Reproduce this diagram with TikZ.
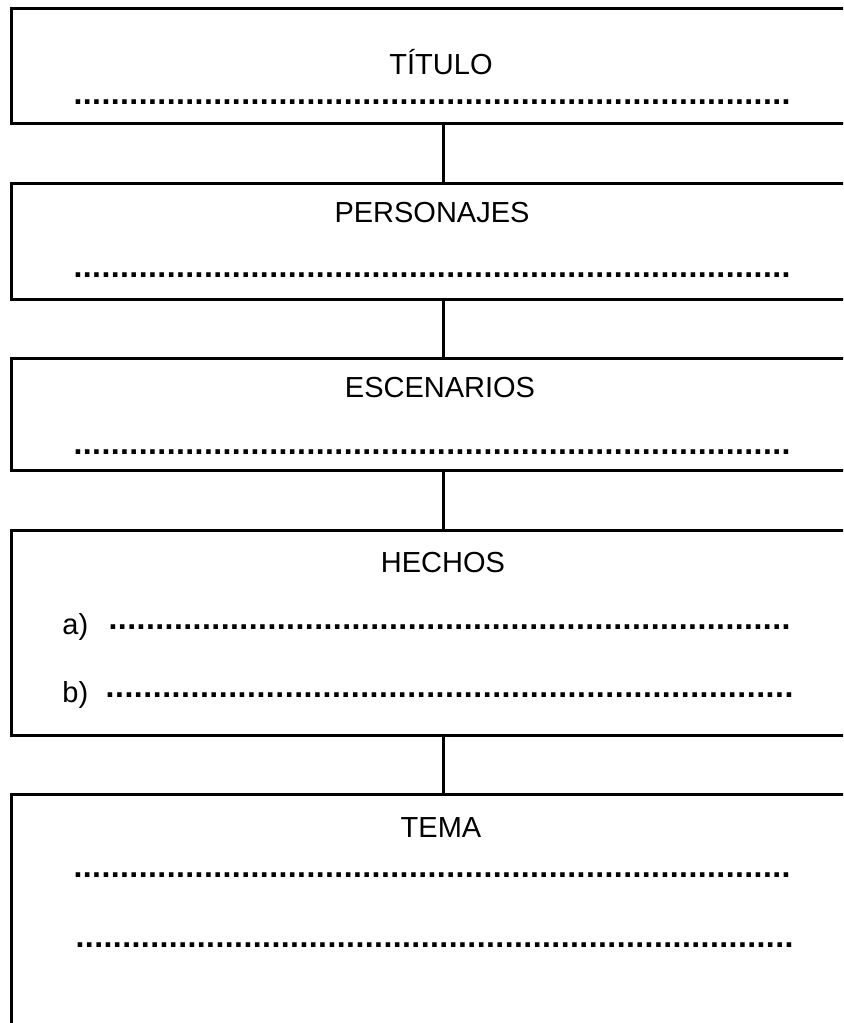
\documentclass[tikz,border=0pt]{standalone}
\usepackage{fontspec}
\setmainfont{Liberation Sans}
\usepackage{tikz}

% row of bold dots of a given width
\newcommand{\puntos}[1]{\hbox to #1{\fontsize{16}{18}\selectfont\bfseries\xleaders\hbox to 4.65pt{\hss.\hss}\hfill}}

\begin{document}
\begin{tikzpicture}[x=0.5pt, y=-0.5pt, every node/.style={inner sep=0pt, font=\fontsize{14.5}{17}\selectfont}, every edge/.style={draw=black, line width=1.5pt}]
			\useasboundingbox (0,0) rectangle (843,1023);
			\clip (0,0) rectangle (843,1023);
			\tikzset{caja/.style={rectangle, draw=black, line width=1.5pt, minimum width=424.5pt}}
			
			\node[caja, minimum height=57.5pt] (titulo) at (435.5,65.5){};
			\node[caja, minimum height=58pt] (personajes) at (435.5,241){};
			\node[caja, minimum height=56pt] (escenarios) at (435.5,414){};
			\node[caja, minimum height=102.5pt] (hechos) at (435.5,632.5){};
			\node[caja, minimum height=125pt] (tema) at (435.5,919){};
			
			\node[anchor=base] (t1) at (441,74){TÍTULO};
			\node[anchor=base west] (t2) at (73,104){\puntos{358.5pt}};
			
			\node[anchor=base] (p1) at (432,222){PERSONAJES};
			\node[anchor=base west] (p2) at (73,277){\puntos{358.5pt}};
			
			\node[anchor=base] (e1) at (440,397){ESCENARIOS};
			\node[anchor=base west] (e2) at (73,454){\puntos{358.5pt}};
			
			\node[anchor=base] (h1) at (443,572){HECHOS};
			\node[anchor=base west] (ha) at (62,634){a)};
			\node[anchor=base west] (ha2) at (108,629){\puntos{341pt}};
			\node[anchor=base west] (hb) at (62,702){b)};
			\node[anchor=base west] (hb2) at (105,697){\puntos{344pt}};
			
			\node[anchor=base] (m1) at (441,837){TEMA};
			\node[anchor=base west] (m2) at (73,877){\puntos{358.5pt}};
			\node[anchor=base west] (m3) at (75,947){\puntos{359pt}};
			
			\path (titulo.south -| 443,0) edge (personajes.north -| 443,0);
			\path (personajes.south -| 443,0) edge (escenarios.north -| 443,0);
			\path (escenarios.south -| 443,0) edge (hechos.north -| 443,0);
			\path (hechos.south -| 443,0) edge (tema.north -| 443,0);
\end{tikzpicture}
\end{document}
